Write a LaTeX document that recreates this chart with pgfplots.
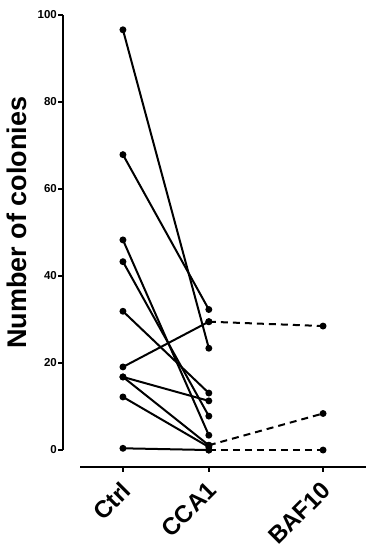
\documentclass[border=0pt]{standalone}
\usepackage{fontspec}
\setmainfont{Liberation Sans}
\usepackage{pgfplots}
\pgfplotsset{compat=1.18}

\pgfplotsset{
  pair/.style={black, line width=2pt, mark=*, mark size=2.4pt, mark options={solid}},
  drug/.style={pair, dash pattern=on 7pt off 5pt},
}

\begin{document}
\begin{tikzpicture}
\begin{axis}[
  scale only axis, width=303pt, height=452pt,
  xmin=-0.698, xmax=2.83, ymin=-3.9, ymax=100,
  axis x line*=bottom, axis y line*=left,
  axis line style={draw=none},
  xtick={0,1,2.33}, xticklabels={Ctrl,CCA1,BAF10},
  ytick={0,20,...,100},
  tick align=outside, major tick length=4.5pt,
  tick style={line width=1.6pt, black},
  yticklabel style={font=\bfseries\fontsize{11.5}{13}\selectfont, inner sep=1.5pt},
  xticklabel style={font=\bfseries\fontsize{24}{28}\selectfont, rotate=45, anchor=north east, inner sep=0pt, xshift=-8pt, yshift=-4pt},
  /pgf/number format/assume math mode=true,
  ylabel={Number of colonies},
  ylabel style={font=\bfseries\fontsize{27}{31}\selectfont, at={(axis description cs:0,0.54)}, anchor=center, yshift=46pt},
  clip=false,
]
  % Ctrl -> CCA1 pairs
  \addplot[pair] coordinates {(0,96.6) (1,23.4)};
  \addplot[pair] coordinates {(0,67.9) (1,32.3)};
  \addplot[pair] coordinates {(0,48.3) (1,3.4)};
  \addplot[pair] coordinates {(0,43.3) (1,7.8)};
  \addplot[pair] coordinates {(0,31.9) (1,13.1)};
  \addplot[pair] coordinates {(0,19.1) (1,29.5)};
  \addplot[pair] coordinates {(0,16.8) (1,11.3)};
  \addplot[pair] coordinates {(0,16.8) (1,1.1)};
  \addplot[pair] coordinates {(0,12.2) (1,0.7)};
  \addplot[pair] coordinates {(0,0.4) (1,0)};
  % CCA1 -> BAF10
  \addplot[drug] coordinates {(1,29.5) (2.33,28.5)};
  \addplot[drug] coordinates {(1,1.1) (2.33,8.4)};
  \addplot[drug] coordinates {(1,0) (2.33,0)};
  % detached axis lines
  \draw[line width=1.8pt] (axis cs:-0.698,0) -- (axis cs:-0.698,100);
  \draw[line width=1.8pt] (axis cs:-0.5,-3.9) -- (axis cs:2.83,-3.9);
\end{axis}
\pgfresetboundingbox
\path (-63pt,-83pt) rectangle (311pt,467pt);
\end{tikzpicture}
\end{document}
